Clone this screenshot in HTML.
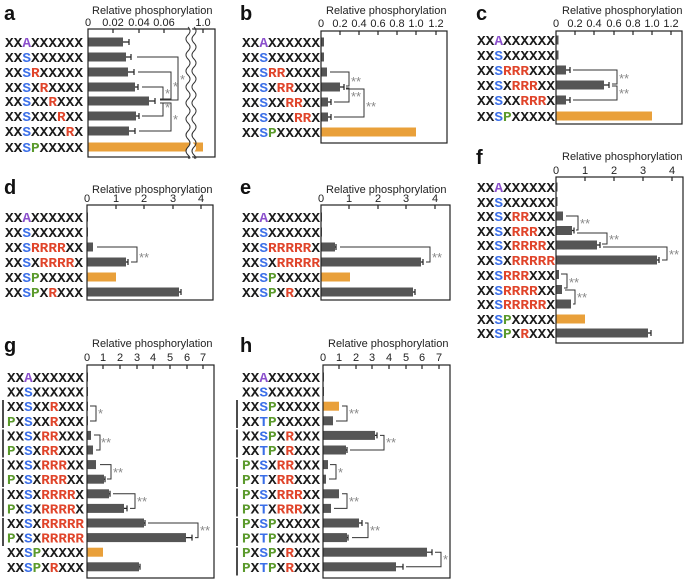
<!DOCTYPE html>
<html><head><meta charset="utf-8"><style>
html,body{margin:0;padding:0;background:#fff;}
svg{display:block}
.q{font-family:"Liberation Mono",monospace;font-weight:bold;font-size:14px;fill:#1a1a1a}
.A{fill:#8b4fcc}.S{fill:#3b6fe8}.R{fill:#e0442a}.P{fill:#5b9a2c}
.t{font-family:"Liberation Sans",sans-serif;font-size:11px;fill:#222}
.k{font-family:"Liberation Sans",sans-serif;font-size:11px;fill:#222;text-anchor:middle}
.L{font-family:"Liberation Sans",sans-serif;font-size:20px;font-weight:bold;fill:#111}
.st{font-family:"Liberation Sans",sans-serif;font-size:13px;fill:#888}
.bx{fill:none;stroke:#222;stroke-width:1.2}
.br{fill:none;stroke:#333;stroke-width:1}
.g{fill:#555}.o{fill:#e9a03a}
.e{stroke:#222;stroke-width:1.2;fill:none}
.pl{stroke:#111;stroke-width:1.5}
</style></head><body>
<svg width="686" height="581" viewBox="0 0 686 581" xmlns="http://www.w3.org/2000/svg">

<!-- ===== a ===== -->
<text class="L" x="4" y="20">a</text>
<text class="t" x="92" y="14">Relative phosphorylation</text>
<text class="k" x="88" y="26">0</text><text class="k" x="113" y="26">0.02</text><text class="k" x="139" y="26">0.04</text><text class="k" x="164" y="26">0.06</text><text class="k" x="203" y="26">1.0</text>
<path class="e" d="M113 29v4M139 29v4M164 29v4M203 29v4"/>
<g>
<text class="q" x="5" y="47" textLength="78" lengthAdjust="spacingAndGlyphs">XX<tspan class="A">A</tspan>XXXXXX</text>
<text class="q" x="5" y="62" textLength="78" lengthAdjust="spacingAndGlyphs">XX<tspan class="S">S</tspan>XXXXXX</text>
<text class="q" x="5" y="77" textLength="78" lengthAdjust="spacingAndGlyphs">XX<tspan class="S">S</tspan><tspan class="R">R</tspan>XXXXX</text>
<text class="q" x="5" y="92" textLength="78" lengthAdjust="spacingAndGlyphs">XX<tspan class="S">S</tspan>X<tspan class="R">R</tspan>XXXX</text>
<text class="q" x="5" y="106" textLength="78" lengthAdjust="spacingAndGlyphs">XX<tspan class="S">S</tspan>XX<tspan class="R">R</tspan>XXX</text>
<text class="q" x="5" y="121" textLength="78" lengthAdjust="spacingAndGlyphs">XX<tspan class="S">S</tspan>XXX<tspan class="R">R</tspan>XX</text>
<text class="q" x="5" y="136" textLength="78" lengthAdjust="spacingAndGlyphs">XX<tspan class="S">S</tspan>XXXX<tspan class="R">R</tspan>X</text>
<text class="q" x="5" y="152" textLength="78" lengthAdjust="spacingAndGlyphs">XX<tspan class="S">S</tspan><tspan class="P">P</tspan>XXXXX</text>
</g>
<rect class="g" x="88" y="37.5" width="35" height="9"/><path class="e" d="M123 42H129M129 39v6"/>
<rect class="g" x="88" y="52.5" width="38" height="9"/><path class="e" d="M126 57H131M131 54v6"/>
<rect class="g" x="88" y="67.5" width="40" height="9"/><path class="e" d="M128 72H134M134 69v6"/>
<rect class="g" x="88" y="82.5" width="47" height="9"/><path class="e" d="M135 87H138M138 84v6"/>
<rect class="g" x="88" y="96.5" width="61" height="9"/><path class="e" d="M149 101H155M155 98v6"/>
<rect class="g" x="88" y="111.5" width="48" height="9"/><path class="e" d="M136 116H139M139 113v6"/>
<rect class="g" x="88" y="126.5" width="41" height="9"/><path class="e" d="M129 131H135M135 128v6"/>
<rect class="o" x="88" y="142.5" width="115" height="9"/>
<path class="br" d="M137 57H178V100H160M138 72H171V99H160M142 87H163V99M142 116H163V103M139 131H171V103H160"/>
<text class="st" x="180" y="84">*</text><text class="st" x="173" y="91">*</text><text class="st" x="165" y="98">*</text><text class="st" x="165" y="112">*</text><text class="st" x="173" y="124">*</text>
<rect x="88" y="29" width="127" height="128" class="bx"/>
<path d="M188 27 q4 4 0 8 q-4 4 0 8 q4 4 0 8 q-4 4 0 8 q4 4 0 8 q-4 4 0 8 q4 4 0 8 q-4 4 0 8 q4 4 0 8 q-4 4 0 8 q4 4 0 8 q-4 4 0 8 q4 4 0 8 q-4 4 0 8 q4 4 0 8 q-4 4 0 8 q4 4 0 3 L194 160 q-4 -4 0 -8 q4 -4 0 -8 q-4 -4 0 -8 q4 -4 0 -8 q-4 -4 0 -8 q4 -4 0 -8 q-4 -4 0 -8 q4 -4 0 -8 q-4 -4 0 -8 q4 -4 0 -8 q-4 -4 0 -8 q4 -4 0 -8 q-4 -4 0 -8 q4 -4 0 -8 q-4 -4 0 -8 q4 -4 0 -8 q-4 -4 0 -5 Z" fill="#fff"/>
<path d="M188 27 q4 4 0 8 q-4 4 0 8 q4 4 0 8 q-4 4 0 8 q4 4 0 8 q-4 4 0 8 q4 4 0 8 q-4 4 0 8 q4 4 0 8 q-4 4 0 8 q4 4 0 8 q-4 4 0 8 q4 4 0 8 q-4 4 0 8 q4 4 0 8 q-4 4 0 8 q4 4 0 3" class="br" stroke="#222"/>
<path d="M194 27 q4 4 0 8 q-4 4 0 8 q4 4 0 8 q-4 4 0 8 q4 4 0 8 q-4 4 0 8 q4 4 0 8 q-4 4 0 8 q4 4 0 8 q-4 4 0 8 q4 4 0 8 q-4 4 0 8 q4 4 0 8 q-4 4 0 8 q4 4 0 8 q-4 4 0 8 q4 4 0 3" class="br" stroke="#222"/>

<!-- ===== b ===== -->
<text class="L" x="240" y="20">b</text>
<text class="t" x="326" y="14">Relative phosphorylation</text>
<text class="k" x="321" y="27">0</text><text class="k" x="340" y="27">0.2</text><text class="k" x="359" y="27">0.4</text><text class="k" x="378" y="27">0.6</text><text class="k" x="397" y="27">0.8</text><text class="k" x="416" y="27">1.0</text><text class="k" x="436" y="27">1.2</text>
<path class="e" d="M340 31v4M359 31v4M378 31v4M397 31v4M416 31v4M436 31v4"/>
<text class="q" x="242" y="47" textLength="78" lengthAdjust="spacingAndGlyphs">XX<tspan class="A">A</tspan>XXXXXX</text>
<text class="q" x="242" y="62" textLength="78" lengthAdjust="spacingAndGlyphs">XX<tspan class="S">S</tspan>XXXXXX</text>
<text class="q" x="242" y="77" textLength="78" lengthAdjust="spacingAndGlyphs">XX<tspan class="S">S</tspan><tspan class="R">RR</tspan>XXXX</text>
<text class="q" x="242" y="92" textLength="78" lengthAdjust="spacingAndGlyphs">XX<tspan class="S">S</tspan>X<tspan class="R">RR</tspan>XXX</text>
<text class="q" x="242" y="107" textLength="78" lengthAdjust="spacingAndGlyphs">XX<tspan class="S">S</tspan>XX<tspan class="R">RR</tspan>XX</text>
<text class="q" x="242" y="122" textLength="78" lengthAdjust="spacingAndGlyphs">XX<tspan class="S">S</tspan>XXX<tspan class="R">RR</tspan>X</text>
<text class="q" x="242" y="137" textLength="78" lengthAdjust="spacingAndGlyphs">XX<tspan class="S">S</tspan><tspan class="P">P</tspan>XXXXX</text>
<rect class="g" x="321" y="37.5" width="3" height="9"/>
<rect class="g" x="321" y="52.5" width="3" height="9"/>
<rect class="g" x="321" y="67.5" width="6" height="9"/>
<rect class="g" x="321" y="82.5" width="19" height="9"/><path class="e" d="M340 87H344M344 84v6"/>
<rect class="g" x="321" y="97.5" width="7" height="9"/><path class="e" d="M328 102H331M331 99v6"/>
<rect class="g" x="321" y="112.5" width="7" height="9"/><path class="e" d="M328 117H331M331 114v6"/>
<rect class="o" x="321" y="127.5" width="95" height="9"/>
<path class="br" d="M330 72H349V86H346M346 88H349V102H334M346 89H364V117H334"/>
<text class="st" x="351" y="86">**</text><text class="st" x="351" y="101">**</text><text class="st" x="366" y="111">**</text>
<rect x="321" y="31" width="126" height="112" class="bx"/>

<!-- ===== c ===== -->
<text class="L" x="476" y="20">c</text>
<text class="t" x="562" y="14">Relative phosphorylation</text>
<text class="k" x="556" y="27">0</text><text class="k" x="575" y="27">0.2</text><text class="k" x="594" y="27">0.4</text><text class="k" x="614" y="27">0.6</text><text class="k" x="633" y="27">0.8</text><text class="k" x="652" y="27">1.0</text><text class="k" x="671" y="27">1.2</text>
<path class="e" d="M575 31v4M594 31v4M614 31v4M633 31v4M652 31v4M671 31v4"/>
<text class="q" x="477" y="45" textLength="78" lengthAdjust="spacingAndGlyphs">XX<tspan class="A">A</tspan>XXXXXX</text>
<text class="q" x="477" y="60" textLength="78" lengthAdjust="spacingAndGlyphs">XX<tspan class="S">S</tspan>XXXXXX</text>
<text class="q" x="477" y="75" textLength="78" lengthAdjust="spacingAndGlyphs">XX<tspan class="S">S</tspan><tspan class="R">RRR</tspan>XXX</text>
<text class="q" x="477" y="90" textLength="78" lengthAdjust="spacingAndGlyphs">XX<tspan class="S">S</tspan>X<tspan class="R">RRR</tspan>XX</text>
<text class="q" x="477" y="105" textLength="78" lengthAdjust="spacingAndGlyphs">XX<tspan class="S">S</tspan>XX<tspan class="R">RRR</tspan>X</text>
<text class="q" x="477" y="121" textLength="78" lengthAdjust="spacingAndGlyphs">XX<tspan class="S">S</tspan><tspan class="P">P</tspan>XXXXX</text>
<rect class="g" x="556" y="35.5" width="2.5" height="9"/>
<rect class="g" x="556" y="50.5" width="2.5" height="9"/>
<rect class="g" x="556" y="65.5" width="10" height="9"/><path class="e" d="M566 70H570M570 67v6"/>
<rect class="g" x="556" y="80.5" width="48" height="9"/><path class="e" d="M604 85H609M609 82v6"/>
<rect class="g" x="556" y="95.5" width="10" height="9"/><path class="e" d="M566 100H570M570 97v6"/>
<rect class="o" x="556" y="111.5" width="96" height="9"/>
<path class="br" d="M573 70H617V84H612M612 86H617V100H573"/>
<text class="st" x="619" y="83">**</text><text class="st" x="619" y="98">**</text>
<rect x="556" y="31" width="126" height="93" class="bx"/>

<!-- ===== d ===== -->
<text class="L" x="4" y="194">d</text>
<text class="t" x="92" y="193">Relative phosphorylation</text>
<text class="k" x="87" y="202">0</text><text class="k" x="116" y="202">1</text><text class="k" x="144" y="202">2</text><text class="k" x="173" y="202">3</text><text class="k" x="201" y="202">4</text>
<path class="e" d="M116 205v4M144 205v4M173 205v4M201 205v4"/>
<text class="q" x="5" y="222" textLength="78" lengthAdjust="spacingAndGlyphs">XX<tspan class="A">A</tspan>XXXXXX</text>
<text class="q" x="5" y="237" textLength="78" lengthAdjust="spacingAndGlyphs">XX<tspan class="S">S</tspan>XXXXXX</text>
<text class="q" x="5" y="252" textLength="78" lengthAdjust="spacingAndGlyphs">XX<tspan class="S">S</tspan><tspan class="R">RRRR</tspan>XX</text>
<text class="q" x="5" y="267" textLength="78" lengthAdjust="spacingAndGlyphs">XX<tspan class="S">S</tspan>X<tspan class="R">RRRR</tspan>X</text>
<text class="q" x="5" y="282" textLength="78" lengthAdjust="spacingAndGlyphs">XX<tspan class="S">S</tspan><tspan class="P">P</tspan>XXXXX</text>
<text class="q" x="5" y="297" textLength="78" lengthAdjust="spacingAndGlyphs">XX<tspan class="S">S</tspan><tspan class="P">P</tspan>X<tspan class="R">R</tspan>XXX</text>
<rect class="g" x="87" y="212.5" width="1" height="9"/>
<rect class="g" x="87" y="227.5" width="1" height="9"/>
<rect class="g" x="87" y="242.5" width="6" height="9"/>
<rect class="g" x="87" y="257.5" width="39" height="9"/><path class="e" d="M126 262H128M128 259v6"/>
<rect class="o" x="87" y="272.5" width="29" height="9"/>
<rect class="g" x="87" y="287.5" width="92" height="9"/><path class="e" d="M179 292H181M181 289v6"/>
<path class="br" d="M97 247H137V262H131"/>
<text class="st" x="139" y="262">**</text>
<rect x="87" y="205" width="126" height="95" class="bx"/>

<!-- ===== e ===== -->
<text class="L" x="240" y="194">e</text>
<text class="t" x="326" y="193">Relative phosphorylation</text>
<text class="k" x="321" y="202">0</text><text class="k" x="349" y="202">1</text><text class="k" x="378" y="202">2</text><text class="k" x="406" y="202">3</text><text class="k" x="435" y="202">4</text>
<path class="e" d="M349 205v4M378 205v4M406 205v4M435 205v4"/>
<text class="q" x="242" y="222" textLength="78" lengthAdjust="spacingAndGlyphs">XX<tspan class="A">A</tspan>XXXXXX</text>
<text class="q" x="242" y="237" textLength="78" lengthAdjust="spacingAndGlyphs">XX<tspan class="S">S</tspan>XXXXXX</text>
<text class="q" x="242" y="252" textLength="78" lengthAdjust="spacingAndGlyphs">XX<tspan class="S">S</tspan><tspan class="R">RRRRR</tspan>X</text>
<text class="q" x="242" y="267" textLength="78" lengthAdjust="spacingAndGlyphs">XX<tspan class="S">S</tspan>X<tspan class="R">RRRRR</tspan></text>
<text class="q" x="242" y="282" textLength="78" lengthAdjust="spacingAndGlyphs">XX<tspan class="S">S</tspan><tspan class="P">P</tspan>XXXXX</text>
<text class="q" x="242" y="297" textLength="78" lengthAdjust="spacingAndGlyphs">XX<tspan class="S">S</tspan><tspan class="P">P</tspan>X<tspan class="R">R</tspan>XXX</text>
<rect class="g" x="321" y="212.5" width="1" height="9"/>
<rect class="g" x="321" y="227.5" width="1" height="9"/>
<rect class="g" x="321" y="242.5" width="14" height="9"/><path class="e" d="M335 247H336M336 244v6"/>
<rect class="g" x="321" y="257.5" width="100" height="9"/><path class="e" d="M421 262H423M423 259v6"/>
<rect class="o" x="321" y="272.5" width="29" height="9"/>
<rect class="g" x="321" y="287.5" width="92" height="9"/><path class="e" d="M413 292H415M415 289v6"/>
<path class="br" d="M340 247H430V262H426"/>
<text class="st" x="432" y="262">**</text>
<rect x="321" y="205" width="129" height="95" class="bx"/>

<!-- ===== f ===== -->
<text class="L" x="476" y="164">f</text>
<text class="t" x="562" y="160">Relative phosphorylation</text>
<text class="k" x="556" y="174">0</text><text class="k" x="585" y="174">1</text><text class="k" x="614" y="174">2</text><text class="k" x="643" y="174">3</text><text class="k" x="672" y="174">4</text>
<path class="e" d="M585 177v4M614 177v4M643 177v4M672 177v4"/>
<text class="q" x="477" y="192" textLength="78" lengthAdjust="spacingAndGlyphs">XX<tspan class="A">A</tspan>XXXXXX</text>
<text class="q" x="477" y="207" textLength="78" lengthAdjust="spacingAndGlyphs">XX<tspan class="S">S</tspan>XXXXXX</text>
<text class="q" x="477" y="221" textLength="78" lengthAdjust="spacingAndGlyphs">XX<tspan class="S">S</tspan>X<tspan class="R">RR</tspan>XXX</text>
<text class="q" x="477" y="236" textLength="78" lengthAdjust="spacingAndGlyphs">XX<tspan class="S">S</tspan>X<tspan class="R">RRR</tspan>XX</text>
<text class="q" x="477" y="250" textLength="78" lengthAdjust="spacingAndGlyphs">XX<tspan class="S">S</tspan>X<tspan class="R">RRRR</tspan>X</text>
<text class="q" x="477" y="265" textLength="78" lengthAdjust="spacingAndGlyphs">XX<tspan class="S">S</tspan>X<tspan class="R">RRRRR</tspan></text>
<text class="q" x="477" y="280" textLength="78" lengthAdjust="spacingAndGlyphs">XX<tspan class="S">S</tspan><tspan class="R">RRR</tspan>XXX</text>
<text class="q" x="477" y="295" textLength="78" lengthAdjust="spacingAndGlyphs">XX<tspan class="S">S</tspan><tspan class="R">RRRR</tspan>XX</text>
<text class="q" x="477" y="309" textLength="78" lengthAdjust="spacingAndGlyphs">XX<tspan class="S">S</tspan><tspan class="R">RRRRR</tspan>X</text>
<text class="q" x="477" y="324" textLength="78" lengthAdjust="spacingAndGlyphs">XX<tspan class="S">S</tspan><tspan class="P">P</tspan>XXXXX</text>
<text class="q" x="477" y="338" textLength="78" lengthAdjust="spacingAndGlyphs">XX<tspan class="S">S</tspan><tspan class="P">P</tspan>X<tspan class="R">R</tspan>XXX</text>
<rect class="g" x="556" y="182.5" width="1.5" height="9"/>
<rect class="g" x="556" y="197" width="1.5" height="9"/>
<rect class="g" x="556" y="211.5" width="7" height="9"/>
<rect class="g" x="556" y="226" width="16" height="9"/><path class="e" d="M572 230.5H574M574 227.5v6"/>
<rect class="g" x="556" y="240.5" width="41" height="9"/><path class="e" d="M597 245H600M600 242v6"/>
<rect class="g" x="556" y="255.5" width="101" height="9"/><path class="e" d="M657 260H659M659 257v6"/>
<rect class="g" x="556" y="270" width="3" height="9"/>
<rect class="g" x="556" y="285" width="6" height="9"/>
<rect class="g" x="556" y="299.5" width="15" height="9"/>
<rect class="o" x="556" y="314.5" width="29" height="9"/>
<rect class="g" x="556" y="328.5" width="92" height="9"/><path class="e" d="M648 333H651M651 330v6"/>
<path class="br" d="M566 216H578V230H576M577 233H607V244H602M603 247H667V260H662M561 274H567V288H564M565 290H575V304H573"/>
<text class="st" x="580" y="228">**</text><text class="st" x="609" y="244">**</text><text class="st" x="669" y="259">**</text><text class="st" x="569" y="287">**</text><text class="st" x="577" y="302">**</text>
<rect x="556" y="177" width="127" height="166" class="bx"/>

<!-- ===== g ===== -->
<text class="L" x="4" y="352">g</text>
<text class="t" x="92" y="347">Relative phosphorylation</text>
<text class="k" x="87" y="361">0</text><text class="k" x="103" y="361">1</text><text class="k" x="120" y="361">2</text><text class="k" x="137" y="361">3</text><text class="k" x="153" y="361">4</text><text class="k" x="170" y="361">5</text><text class="k" x="187" y="361">6</text><text class="k" x="203" y="361">7</text>
<path class="e" d="M103 365v4M120 365v4M137 365v4M153 365v4M170 365v4M187 365v4M203 365v4"/>
<text class="q" x="7" y="382" textLength="77" lengthAdjust="spacingAndGlyphs">XX<tspan class="A">A</tspan>XXXXXX</text>
<text class="q" x="7" y="396.6" textLength="77" lengthAdjust="spacingAndGlyphs">XX<tspan class="S">S</tspan>XXXXXX</text>
<text class="q" x="7" y="411.2" textLength="77" lengthAdjust="spacingAndGlyphs">XX<tspan class="S">S</tspan>XX<tspan class="R">R</tspan>XXX</text>
<text class="q" x="7" y="425.8" textLength="77" lengthAdjust="spacingAndGlyphs"><tspan class="P">P</tspan>X<tspan class="S">S</tspan>XX<tspan class="R">R</tspan>XXX</text>
<text class="q" x="7" y="440.4" textLength="77" lengthAdjust="spacingAndGlyphs">XX<tspan class="S">S</tspan>X<tspan class="R">RR</tspan>XXX</text>
<text class="q" x="7" y="455" textLength="77" lengthAdjust="spacingAndGlyphs"><tspan class="P">P</tspan>X<tspan class="S">S</tspan>X<tspan class="R">RR</tspan>XXX</text>
<text class="q" x="7" y="469.6" textLength="77" lengthAdjust="spacingAndGlyphs">XX<tspan class="S">S</tspan>X<tspan class="R">RRR</tspan>XX</text>
<text class="q" x="7" y="484.2" textLength="77" lengthAdjust="spacingAndGlyphs"><tspan class="P">P</tspan>X<tspan class="S">S</tspan>X<tspan class="R">RRR</tspan>XX</text>
<text class="q" x="7" y="498.8" textLength="77" lengthAdjust="spacingAndGlyphs">XX<tspan class="S">S</tspan>X<tspan class="R">RRRR</tspan>X</text>
<text class="q" x="7" y="513.4" textLength="77" lengthAdjust="spacingAndGlyphs"><tspan class="P">P</tspan>X<tspan class="S">S</tspan>X<tspan class="R">RRRR</tspan>X</text>
<text class="q" x="7" y="528" textLength="77" lengthAdjust="spacingAndGlyphs">XX<tspan class="S">S</tspan>X<tspan class="R">RRRRR</tspan></text>
<text class="q" x="7" y="542.6" textLength="77" lengthAdjust="spacingAndGlyphs"><tspan class="P">P</tspan>X<tspan class="S">S</tspan>X<tspan class="R">RRRRR</tspan></text>
<text class="q" x="7" y="557.2" textLength="77" lengthAdjust="spacingAndGlyphs">XX<tspan class="S">S</tspan><tspan class="P">P</tspan>XXXXX</text>
<text class="q" x="7" y="571.8" textLength="77" lengthAdjust="spacingAndGlyphs">XX<tspan class="S">S</tspan><tspan class="P">P</tspan>X<tspan class="R">R</tspan>XXX</text>
<path class="pl" d="M3 400v28M3 429.5v28M3 459v28M3 488.5v28M3 518v28"/>
<rect class="g" x="87" y="372.5" width="1" height="9"/>
<rect class="g" x="87" y="387" width="1" height="9"/>
<rect class="g" x="87" y="401.7" width="1" height="9"/>
<rect class="g" x="87" y="416.3" width="1" height="9"/>
<rect class="g" x="87" y="430.9" width="4" height="9"/>
<rect class="g" x="87" y="445.5" width="6" height="9"/>
<rect class="g" x="87" y="460.1" width="9" height="9"/>
<rect class="g" x="87" y="474.7" width="17" height="9"/><path class="e" d="M104 479.2H105M105 476.2v6"/>
<rect class="g" x="87" y="489.3" width="22" height="9"/><path class="e" d="M109 493.8H110M110 490.8v6"/>
<rect class="g" x="87" y="503.9" width="37" height="9"/><path class="e" d="M124 508.4H127M127 505.4v6"/>
<rect class="g" x="87" y="518.5" width="57" height="9"/><path class="e" d="M144 523H145M145 520v6"/>
<rect class="g" x="87" y="533.1" width="99" height="9"/><path class="e" d="M186 537.6H192M192 534.6v6"/>
<rect class="o" x="87" y="547.7" width="16" height="9"/>
<rect class="g" x="87" y="562.3" width="52" height="9"/><path class="e" d="M139 566.8H140M140 563.8v6"/>
<path class="br" d="M90 406H96V421H90M94 435H100V450H96M100 464.6H111V479H107M113 493.8H135V508.4H130M148 523H198V537.6H195"/>
<text class="st" x="98" y="418">*</text><text class="st" x="101" y="447">**</text><text class="st" x="113" y="477">**</text><text class="st" x="137" y="506">**</text><text class="st" x="200" y="535">**</text>
<rect x="87" y="365" width="127" height="213" class="bx"/>

<!-- ===== h ===== -->
<text class="L" x="240" y="352">h</text>
<text class="t" x="328" y="347">Relative phosphorylation</text>
<text class="k" x="323" y="361">0</text><text class="k" x="339" y="361">1</text><text class="k" x="356" y="361">2</text><text class="k" x="372" y="361">3</text><text class="k" x="389" y="361">4</text><text class="k" x="406" y="361">5</text><text class="k" x="422" y="361">6</text><text class="k" x="439" y="361">7</text>
<path class="e" d="M339 365v4M356 365v4M372 365v4M389 365v4M406 365v4M422 365v4M439 365v4"/>
<text class="q" x="242" y="382" textLength="78" lengthAdjust="spacingAndGlyphs">XX<tspan class="A">A</tspan>XXXXXX</text>
<text class="q" x="242" y="396.6" textLength="78" lengthAdjust="spacingAndGlyphs">XX<tspan class="S">S</tspan>XXXXXX</text>
<text class="q" x="242" y="411.2" textLength="78" lengthAdjust="spacingAndGlyphs">XX<tspan class="S">S</tspan><tspan class="P">P</tspan>XXXXX</text>
<text class="q" x="242" y="425.8" textLength="78" lengthAdjust="spacingAndGlyphs">XX<tspan class="S">T</tspan><tspan class="P">P</tspan>XXXXX</text>
<text class="q" x="242" y="440.4" textLength="78" lengthAdjust="spacingAndGlyphs">XX<tspan class="S">S</tspan><tspan class="P">P</tspan>X<tspan class="R">R</tspan>XXX</text>
<text class="q" x="242" y="455" textLength="78" lengthAdjust="spacingAndGlyphs">XX<tspan class="S">T</tspan><tspan class="P">P</tspan>X<tspan class="R">R</tspan>XXX</text>
<text class="q" x="242" y="469.6" textLength="78" lengthAdjust="spacingAndGlyphs"><tspan class="P">P</tspan>X<tspan class="S">S</tspan>X<tspan class="R">RR</tspan>XXX</text>
<text class="q" x="242" y="484.2" textLength="78" lengthAdjust="spacingAndGlyphs"><tspan class="P">P</tspan>X<tspan class="S">T</tspan>X<tspan class="R">RR</tspan>XXX</text>
<text class="q" x="242" y="498.8" textLength="78" lengthAdjust="spacingAndGlyphs"><tspan class="P">P</tspan>X<tspan class="S">S</tspan>X<tspan class="R">RRR</tspan>XX</text>
<text class="q" x="242" y="513.4" textLength="78" lengthAdjust="spacingAndGlyphs"><tspan class="P">P</tspan>X<tspan class="S">T</tspan>X<tspan class="R">RRR</tspan>XX</text>
<text class="q" x="242" y="528" textLength="78" lengthAdjust="spacingAndGlyphs"><tspan class="P">P</tspan>X<tspan class="S">S</tspan><tspan class="P">P</tspan>XXXXX</text>
<text class="q" x="242" y="542.6" textLength="78" lengthAdjust="spacingAndGlyphs"><tspan class="P">P</tspan>X<tspan class="S">T</tspan><tspan class="P">P</tspan>XXXXX</text>
<text class="q" x="242" y="557.2" textLength="78" lengthAdjust="spacingAndGlyphs"><tspan class="P">P</tspan>X<tspan class="S">S</tspan><tspan class="P">P</tspan>X<tspan class="R">R</tspan>XXX</text>
<text class="q" x="242" y="571.8" textLength="78" lengthAdjust="spacingAndGlyphs"><tspan class="P">P</tspan>X<tspan class="S">T</tspan><tspan class="P">P</tspan>X<tspan class="R">R</tspan>XXX</text>
<path class="pl" d="M237 400v28M237 429.5v28M237 459v28M237 488.5v28M237 518v28M237 547.5v28"/>
<rect class="g" x="323" y="372.5" width="1" height="9"/>
<rect class="g" x="323" y="387" width="1" height="9"/>
<rect class="o" x="323" y="401.7" width="16" height="9"/>
<rect class="g" x="323" y="416.3" width="10" height="9"/>
<rect class="g" x="323" y="430.9" width="52" height="9"/><path class="e" d="M375 435.4H377M377 432.4v6"/>
<rect class="g" x="323" y="445.5" width="23" height="9"/><path class="e" d="M346 450H347M347 447v6"/>
<rect class="g" x="323" y="460.1" width="5" height="9"/>
<rect class="g" x="323" y="474.7" width="3" height="9"/>
<rect class="g" x="323" y="489.3" width="16" height="9"/>
<rect class="g" x="323" y="503.9" width="8" height="9"/>
<rect class="g" x="323" y="518.5" width="36" height="9"/><path class="e" d="M359 523H362M362 520v6"/>
<rect class="g" x="323" y="533.1" width="24" height="9"/><path class="e" d="M347 537.6H348M348 534.6v6"/>
<rect class="g" x="323" y="547.7" width="104" height="9"/><path class="e" d="M427 552.2H432M432 549.2v6"/>
<rect class="g" x="323" y="562.3" width="73" height="9"/><path class="e" d="M396 566.8H403M403 563.8v6"/>
<path class="br" d="M342 406H347V421H336M380 435.4H384V450H350M330 464.6H336V479H329M342 493.8H347V508.4H334M365 523H368V537.6H352M435 552.2H441V566.8H406"/>
<text class="st" x="349" y="418">**</text><text class="st" x="386" y="447">**</text><text class="st" x="338" y="477">*</text><text class="st" x="349" y="506">**</text><text class="st" x="370" y="535">**</text><text class="st" x="443" y="564">*</text>
<rect x="323" y="365" width="127" height="213" class="bx"/>
</svg>
</body></html>
